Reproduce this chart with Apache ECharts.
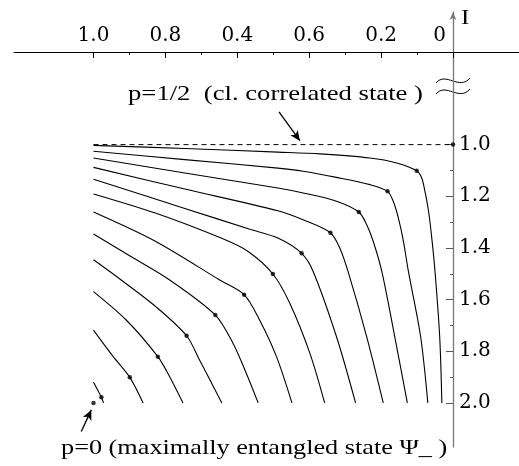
<!DOCTYPE html>
<html>
<head>
<meta charset="utf-8">
<script src="https://cdn.jsdelivr.net/npm/echarts@6/dist/echarts.min.js"></script>
<style>
html,body{margin:0;padding:0;background:#fff;}
#chart{width:519px;height:466px;}
</style>
</head>
<body>
<div id="chart"></div>
<script>
// ---- data (x: top axis value, I: right axis value) ----
const xTickValues = [1.0, 0.8, 0.6, 0.4, 0.2, 0];
const xTickLabels = ['1.0', '0.8', '0.4', '0.6', '0.2', '0'];
const xMinorTicks = [0.1, 0.3, 0.5, 0.7, 0.9];
const yTickValues = [1.0, 1.2, 1.4, 1.6, 1.8, 2.0];
const yTickLabels = ['1.0', '1.2', '1.4', '1.6', '1.8', '2.0'];
const yMinorTicks = [1.1, 1.3, 1.5, 1.7, 1.9];

const curve1 = [[1.0,1.003],[0.746,1.015],[0.487,1.029],[0.370,1.036],[0.231,1.052],[0.157,1.071],[0.101,1.101],[0.087,1.129],[0.078,1.181],[0.068,1.258],[0.059,1.362],[0.050,1.491],[0.037,1.744],[0.031,2.0]];
const curve2 = [[1.0,1.026],[0.746,1.058],[0.487,1.091],[0.417,1.103],[0.324,1.127],[0.231,1.155],[0.182,1.181],[0.166,1.220],[0.152,1.284],[0.138,1.374],[0.124,1.491],[0.090,1.744],[0.070,2.0]];
const curve3 = [[1.0,1.052],[0.746,1.110],[0.487,1.168],[0.417,1.187],[0.324,1.219],[0.262,1.261],[0.240,1.310],[0.222,1.374],[0.198,1.491],[0.162,1.744],[0.127,2.0]];
const curve4 = [[1.0,1.088],[0.746,1.172],[0.487,1.256],[0.417,1.291],[0.341,1.341],[0.315,1.400],[0.292,1.491],[0.240,1.744],[0.194,2.0]];
const curve5 = [[1.0,1.134],[0.746,1.247],[0.565,1.328],[0.487,1.362],[0.421,1.421],[0.389,1.491],[0.324,1.744],[0.271,2.0]];
const curve6 = [[1.0,1.191],[0.828,1.265],[0.645,1.362],[0.571,1.413],[0.501,1.501],[0.454,1.614],[0.398,1.808],[0.357,2.0]];
const curve7 = [[1.0,1.261],[0.828,1.374],[0.649,1.524],[0.581,1.581],[0.538,1.679],[0.491,1.821],[0.448,2.0]];
const curve8 = [[1.0,1.346],[0.896,1.433],[0.788,1.524],[0.661,1.660],[0.612,1.769],[0.575,1.885],[0.542,2.0]];
const curve9 = [[1.0,1.446],[0.923,1.524],[0.826,1.628],[0.741,1.740],[0.705,1.834],[0.643,2.0]];
const curve10 = [[1.0,1.569],[0.909,1.679],[0.821,1.821],[0.788,1.899],[0.751,2.0]];
const curve11 = [[1.0,1.718],[0.945,1.821],[0.899,1.901],[0.862,2.0]];
const curve12 = [[1.0,1.920],[0.978,1.978],[0.972,2.0]];
const curves = [curve1, curve2, curve3, curve4, curve5, curve6, curve7, curve8, curve9, curve10, curve11, curve12];

const classicalLine = [[1.0, 1.0], [0, 1.0]];      // p = 1/2
const dotX = [0.101, 0.182, 0.262, 0.341, 0.421, 0.501, 0.581, 0.661, 0.741, 0.821, 0.899, 0.978];
const dotI = [1.101, 1.181, 1.261, 1.341, 1.421, 1.501, 1.581, 1.660, 1.740, 1.821, 1.901, 1.978];
const entangledPoint = [1.0, 2.0];                   // p = 0
const classicalPoint = [0, 1.0];

const arrowHalf = [[0.484, 0.873], [0.426, 0.985]];
const arrowZero = [[1.034, 2.111], [1.006, 2.027]];

const labelHalf = 'p=1/2  (cl. correlated state )';
const labelZero = 'p=0 (maximally entangled state \u03A8_ )';
const axisName = 'I';

// ---- chart ----
const SERIF = '"Liberation Serif", "Times New Roman", serif';
const WIDE = '"DejaVu Serif", serif';
const chart = echarts.init(document.getElementById('chart'), null, {renderer: 'canvas'});

const series = curves.map(c => ({
  type: 'line', data: c, showSymbol: false, smooth: 0.3, clip: false,
  lineStyle: {color: '#000', width: 1.1}, silent: true, animation: false
}));
series.push({
  type: 'line', data: classicalLine, showSymbol: false, clip: false,
  lineStyle: {color: '#000', width: 1, type: [5, 4]}, silent: true, animation: false,
  markLine: {
    silent: true, animation: false, symbol: ['none', 'arrow'], symbolSize: [7, 10],
    label: {show: false},
    lineStyle: {color: '#000', width: 1.3, type: 'solid'},
    data: [
      [{coord: arrowHalf[0]}, {coord: arrowHalf[1]}],
      [{coord: arrowZero[0]}, {coord: arrowZero[1]}]
    ]
  }
});
const dots = dotX.map((x, i) => [x, dotI[i]]).concat([entangledPoint, classicalPoint]);
series.push({
  type: 'scatter', data: dots, symbolSize: 4.5, clip: false,
  itemStyle: {color: '#000'}, silent: true, animation: false
});

const X_MIN = 0, X_MAX = 1.2211, Y_MIN = 0.4866, Y_MAX = 2.1707;

const option = {
  animation: false,
  backgroundColor: '#fff',
  grid: [
    {left: 14, right: 66, top: 12, bottom: 19, outerBoundsMode: 'none'},
    {left: 453, right: 0, top: 52, height: 0, outerBoundsMode: 'none'}
  ],
  xAxis: [
    {
      gridIndex: 0, type: 'value', inverse: true, position: 'top', offset: -40,
      min: X_MIN, max: X_MAX,
      axisLine: {show: true, onZero: false, lineStyle: {color: '#000', width: 1}},
      axisTick: {show: true, inside: true, length: 6, customValues: xTickValues, lineStyle: {color: '#000'}},
      axisLabel: {
        show: true, customValues: xTickValues, margin: 6,
        color: '#000', fontFamily: WIDE, fontSize: 20,
        formatter: function (v) {
          const idx = xTickValues.findIndex(t => Math.abs(t - v) < 1e-6);
          const s = idx >= 0 ? xTickLabels[idx] : '';
          return idx === xTickValues.length - 1 ? '{z|' + s + '}' : s;
        },
        rich: {z: {fontFamily: WIDE, fontSize: 20, color: '#000', padding: [0, 27, 0, 0]}}
      },
      splitLine: {show: false}
    },
    {
      gridIndex: 0, type: 'value', inverse: true, position: 'top', offset: -40,
      min: X_MIN, max: X_MAX,
      axisLine: {show: false, onZero: false},
      axisTick: {show: true, inside: true, length: 3, customValues: xMinorTicks, lineStyle: {color: '#000'}},
      axisLabel: {show: false},
      splitLine: {show: false}
    },
    {
      gridIndex: 1, type: 'value', position: 'top', min: 0, max: 1,
      axisLine: {show: true, onZero: false, lineStyle: {color: '#000', width: 1}},
      axisTick: {show: false}, axisLabel: {show: false}, splitLine: {show: false}
    }
  ],
  yAxis: [
    {
      gridIndex: 0, type: 'value', inverse: true, position: 'right',
      min: Y_MIN, max: Y_MAX,
      axisLine: {show: true, onZero: false, symbol: ['none', 'arrow'], symbolSize: [5, 8],
        lineStyle: {color: '#777', width: 1.3}},
      axisTick: {show: true, inside: true, length: 7, customValues: yTickValues, lineStyle: {color: '#555'}},
      axisLabel: {
        show: true, customValues: yTickValues, margin: 6,
        color: '#000', fontFamily: WIDE, fontSize: 20,
        formatter: function (v) {
          const idx = yTickValues.findIndex(t => Math.abs(t - v) < 1e-6);
          return idx >= 0 ? yTickLabels[idx] : '';
        }
      },
      splitLine: {show: false}
    },
    {
      gridIndex: 0, type: 'value', inverse: true, position: 'right',
      min: Y_MIN, max: Y_MAX,
      axisLine: {show: false, onZero: false},
      axisTick: {show: true, inside: true, length: 3, customValues: yMinorTicks, lineStyle: {color: '#555'}},
      axisLabel: {show: false},
      splitLine: {show: false}
    },
    {gridIndex: 1, type: 'value', show: false}
  ],
  graphic: [
    {type: 'text', x: 461, y: 8, scaleX: 1.2, style: {text: axisName, font: '21px ' + SERIF, fill: '#000'}},
    {type: 'text', x: 128, y: 84, scaleX: 1.27, style: {text: labelHalf, font: '21px ' + SERIF, fill: '#000'}},
    {type: 'text', x: 61, y: 438, scaleX: 1.25, style: {text: labelZero, font: '21px ' + SERIF, fill: '#000'}},
    {type: 'bezierCurve', shape: {x1: 436, y1: 83, cpx1: 446, cpy1: 71, cpx2: 459, cpy2: 91, x2: 470, y2: 78},
      style: {fill: null, stroke: '#000', lineWidth: 1}},
    {type: 'bezierCurve', shape: {x1: 436, y1: 94, cpx1: 446, cpy1: 82, cpx2: 459, cpy2: 102, x2: 470, y2: 89},
      style: {fill: null, stroke: '#000', lineWidth: 1}}
  ],
  series: series
};
chart.setOption(option);
</script>
</body>
</html>
